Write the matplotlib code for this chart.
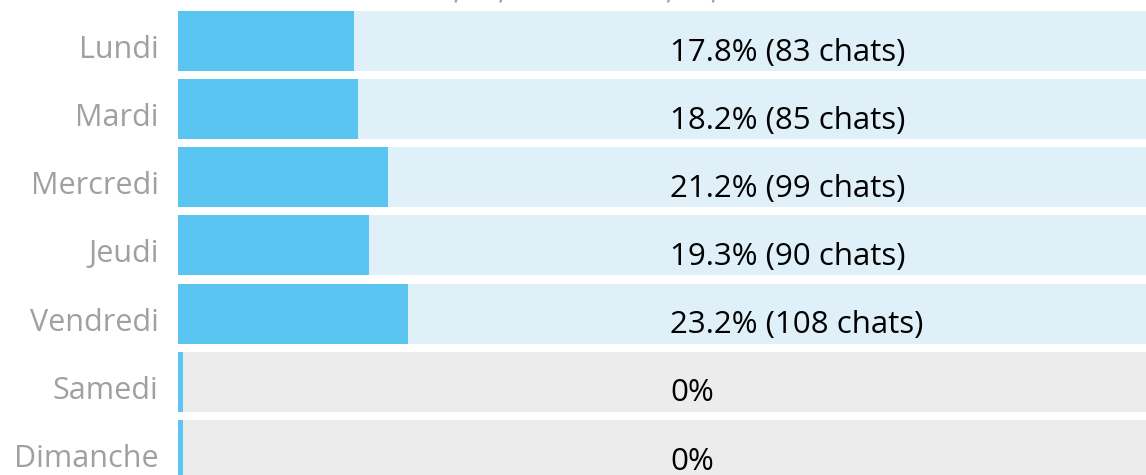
import numpy as np
import matplotlib.pyplot as plt

# données par jour de la semaine
jours = ['Lundi', 'Mardi', 'Mercredi', 'Jeudi', 'Vendredi', 'Samedi', 'Dimanche']
pourcentages = [17.8, 18.2, 21.2, 19.3, 23.2, 0, 0]
nb_chats = [83, 85, 99, 90, 108, 0, 0]
titre = '01/01/2021 au 31/01/2021'

bleu = '#5bc5f2'
fond_bleu = '#dff0f8'
fond_gris = '#ececec'
gris_texte = '#a0a0a0'

plt.rcParams['font.family'] = ['Open Sans', 'DejaVu Sans']

fig = plt.figure(figsize=(11.46, 4.75), dpi=100)
ax = fig.add_axes([178 / 1146, 0, 968 / 1146, 1])

y = np.arange(len(jours))
h = 0.88
fonds = [fond_bleu if v > 0 else fond_gris for v in pourcentages]
ax.barh(y, [100] * len(jours), height=h, color=fonds, zorder=1)
# barre minimale visible pour les jours à 0
largeurs = [max(v, 0.5) for v in pourcentages]
ax.barh(y, largeurs, height=h, color=bleu, zorder=2)

for i, (p, n) in enumerate(zip(pourcentages, nb_chats)):
    txt = f'{p:.1f}% ({n} chats)' if n > 0 else '0%'
    ax.text(49.7, i + 0.17, txt, ha='left', va='center', fontsize=22.5, color='black', zorder=3)

ax.set_xlim(0, 97.8)
ax.set_ylim(6.367, -0.601)
ax.set_yticks(y + 0.08)
ax.set_yticklabels(jours, fontsize=22, color=gris_texte)
ax.tick_params(axis='y', length=0, pad=14)
ax.set_xticks([])
for s in ax.spines.values():
    s.set_visible(False)

# titre coupé en haut de l'image (seules les barres obliques dépassent)
fig.text(605 / 1146, 1.0 + 0.5 / 475, titre, ha='center', va='baseline', fontsize=20,
         color=gris_texte, family='DejaVu Sans')

fig.savefig('out.png', dpi=100)
